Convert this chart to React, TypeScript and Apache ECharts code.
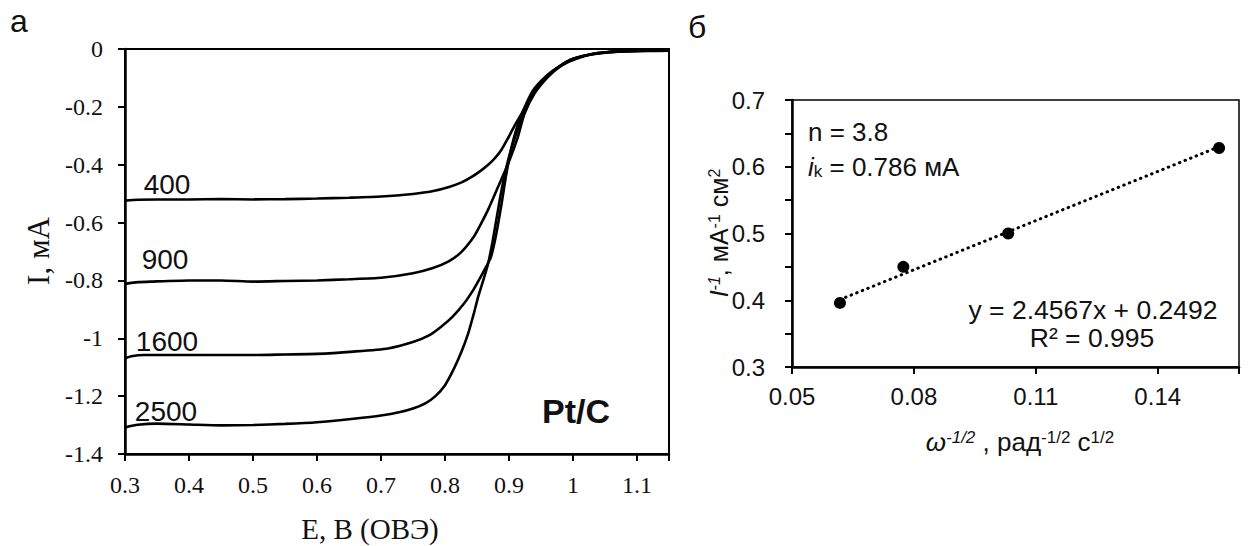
import React, { useEffect, useRef } from 'react';
import * as echarts from 'echarts';

// ---------- data ----------
// Left panel: LSV curves I (mA) vs E (V vs RHE) for each rotation rate (rpm)
const rpmLabels = ['400', '900', '1600', '2500'];

const curve400: [number, number][] = [
  [0.300, -0.524], [0.320, -0.521], [0.350, -0.520], [0.400, -0.520], [0.450, -0.519],
  [0.500, -0.520], [0.550, -0.519], [0.600, -0.517], [0.650, -0.514], [0.700, -0.510],
  [0.750, -0.501], [0.780, -0.492], [0.805, -0.478], [0.825, -0.462], [0.841, -0.443],
  [0.855, -0.422], [0.867, -0.401], [0.878, -0.377], [0.888, -0.349], [0.898, -0.310],
  [0.908, -0.268], [0.922, -0.215], [0.935, -0.163], [0.950, -0.119], [0.971, -0.073],
  [0.993, -0.044], [1.010, -0.030], [1.024, -0.021], [1.045, -0.014], [1.065, -0.010],
  [1.090, -0.008], [1.118, -0.007], [1.150, -0.006],
];

const curve900: [number, number][] = [
  [0.300, -0.812], [0.320, -0.806], [0.340, -0.804], [0.400, -0.800], [0.450, -0.800],
  [0.500, -0.804], [0.550, -0.802], [0.600, -0.800], [0.650, -0.796], [0.700, -0.791],
  [0.750, -0.775], [0.780, -0.758], [0.805, -0.735], [0.825, -0.703], [0.845, -0.649],
  [0.856, -0.605], [0.867, -0.557], [0.883, -0.476], [0.899, -0.395], [0.914, -0.303],
  [0.924, -0.225], [0.940, -0.153], [0.961, -0.096], [0.980, -0.060], [1.000, -0.036],
  [1.030, -0.018], [1.070, -0.009], [1.110, -0.006], [1.150, -0.005],
];

const curve1600: [number, number][] = [
  [0.300, -1.069], [0.310, -1.062], [0.330, -1.058], [0.400, -1.058], [0.500, -1.058],
  [0.550, -1.056], [0.600, -1.054], [0.657, -1.046], [0.711, -1.035], [0.751, -1.012],
  [0.775, -0.990], [0.794, -0.960], [0.812, -0.925], [0.830, -0.879], [0.845, -0.830],
  [0.856, -0.787], [0.865, -0.750], [0.872, -0.718], [0.880, -0.640], [0.888, -0.540],
  [0.896, -0.430], [0.905, -0.330], [0.918, -0.235], [0.937, -0.145], [0.960, -0.090],
  [0.980, -0.058], [1.000, -0.034], [1.030, -0.017], [1.070, -0.008], [1.110, -0.006],
  [1.150, -0.005],
];

const curve2500: [number, number][] = [
  [0.300, -1.308], [0.320, -1.299], [0.350, -1.295], [0.400, -1.298], [0.450, -1.301],
  [0.500, -1.300], [0.550, -1.296], [0.600, -1.290], [0.657, -1.278], [0.700, -1.267],
  [0.730, -1.255], [0.751, -1.242], [0.770, -1.224], [0.785, -1.200], [0.800, -1.162],
  [0.814, -1.105], [0.826, -1.045], [0.836, -0.985], [0.845, -0.915], [0.852, -0.855],
  [0.860, -0.798], [0.867, -0.745], [0.874, -0.670], [0.881, -0.580], [0.889, -0.480],
  [0.898, -0.390], [0.910, -0.300], [0.924, -0.220], [0.940, -0.145], [0.960, -0.092],
  [0.980, -0.058], [1.000, -0.034], [1.030, -0.017], [1.070, -0.008], [1.110, -0.006],
  [1.150, -0.005],
];

// Right panel: Koutecky-Levich plot
const omegaInvSqrt = [0.0618, 0.0774, 0.1032, 0.1551];
const inverseCurrent = [0.396, 0.450, 0.500, 0.628];
const trendX = [0.0618, 0.1551];
const trendY = [0.401, 0.630];
const fitEquation = 'y = 2.4567x + 0.2492';
const fitR2 = 'R² = 0.995';
const electronCount = 'n = 3.8';
const kineticCurrent = ' = 0.786 мА';

// ---------- styling ----------
const SANS = '"Liberation Sans", Arial, sans-serif';
const SERIF = '"Liberation Serif", "Times New Roman", serif';
const INK = '#111';

export default function App() {
  const ref = useRef<HTMLDivElement>(null);

  useEffect(() => {
    if (!ref.current) return;
    const chart = echarts.init(ref.current, undefined, { renderer: 'svg' });

    const curves = [curve400, curve900, curve1600, curve2500];

    const option: any = {
      animation: false,
      backgroundColor: '#fff',
      grid: [
        {
          left: 125, top: 49, right: 1248 - 669, bottom: 546 - 454,
          show: true, borderColor: '#000', borderWidth: 2, backgroundColor: 'transparent',
        },
        {
          left: 792, top: 100, right: 1248 - 1239, bottom: 546 - 367,
          show: true, borderColor: '#000', borderWidth: 1.5, backgroundColor: 'transparent',
        },
      ],
      xAxis: [
        {
          type: 'value', gridIndex: 0, min: 0.3, max: 1.15, interval: 0.1,
          axisLine: { show: true, onZero: false, lineStyle: { color: '#000', width: 2.5 } },
          axisTick: { show: true, inside: false, length: 7, lineStyle: { color: '#000', width: 2 } },
          splitLine: { show: false },
          axisLabel: {
            margin: 19, color: INK, fontFamily: SERIF, fontSize: 24,
            formatter: (v: number) => (Math.abs(v * 10 - Math.round(v * 10)) < 1e-6 ? String(Math.round(v * 10) / 10) : ''),
          },
        },
        {
          type: 'value', gridIndex: 1, min: 0.05, max: 0.16, interval: 0.03,
          axisLine: { show: true, onZero: false, lineStyle: { color: '#000', width: 2.5 } },
          axisTick: { show: true, inside: false, length: 7, lineStyle: { color: '#000', width: 2 } },
          splitLine: { show: false },
          axisLabel: {
            margin: 17, color: INK, fontFamily: SANS, fontSize: 24,
            formatter: (v: number) => (v > 0.155 ? '' : v.toFixed(2)),
          },
        },
      ],
      yAxis: [
        {
          type: 'value', gridIndex: 0, min: -1.4, max: 0, interval: 0.2,
          axisLine: { show: true, onZero: false, lineStyle: { color: '#000', width: 2.5 } },
          axisTick: { show: true, inside: false, length: 7, lineStyle: { color: '#000', width: 2 } },
          splitLine: { show: false },
          axisLabel: {
            margin: 22, color: INK, fontFamily: SERIF, fontSize: 24,
            formatter: (v: number) => String(Math.round(v * 10) / 10),
          },
        },
        {
          type: 'value', gridIndex: 1, min: 0.3, max: 0.7, interval: 0.05,
          axisLine: { show: true, onZero: false, lineStyle: { color: '#000', width: 2.5 } },
          axisTick: { show: true, inside: false, length: 7, lineStyle: { color: '#000', width: 2 } },
          splitLine: { show: false },
          axisLabel: {
            margin: 27, color: INK, fontFamily: SANS, fontSize: 24,
            formatter: (v: number) => {
              const t = Math.round(v * 100);
              return t % 10 === 0 ? (t / 100).toFixed(1) : '';
            },
          },
        },
      ],
      series: [
        ...curves.map((c, i) => ({
          name: rpmLabels[i] + ' rpm',
          type: 'line',
          xAxisIndex: 0,
          yAxisIndex: 0,
          data: c,
          showSymbol: false,
          smooth: 0.2,
          lineStyle: { color: '#000', width: 2.6 },
          z: 3,
        })),
        {
          name: 'trend',
          type: 'line',
          xAxisIndex: 1,
          yAxisIndex: 1,
          data: trendX.map((x, i) => [x, trendY[i]]),
          showSymbol: false,
          lineStyle: { color: '#000', width: 3, type: [0.5, 5.5], cap: 'round' },
          z: 2,
        },
        {
          name: 'K-L',
          type: 'scatter',
          xAxisIndex: 1,
          yAxisIndex: 1,
          data: omegaInvSqrt.map((x, i) => [x, inverseCurrent[i]]),
          symbol: 'circle',
          symbolSize: 12,
          itemStyle: { color: '#000', opacity: 1 },
          z: 4,
        },
      ],
      graphic: [
        // panel letters
        { type: 'text', x: 10, y: 21, style: { text: 'а', font: `32px ${SANS}`, fill: INK, align: 'left', verticalAlign: 'middle' } },
        { type: 'text', x: 688, y: 27, style: { text: 'б', font: `32px ${SANS}`, fill: INK, align: 'left', verticalAlign: 'middle' } },
        // curve labels
        { type: 'text', x: 167, y: 184, style: { text: rpmLabels[0], font: `28px ${SANS}`, fill: INK, align: 'center', verticalAlign: 'middle' } },
        { type: 'text', x: 165, y: 259, style: { text: rpmLabels[1], font: `28px ${SANS}`, fill: INK, align: 'center', verticalAlign: 'middle' } },
        { type: 'text', x: 167, y: 341, style: { text: rpmLabels[2], font: `28px ${SANS}`, fill: INK, align: 'center', verticalAlign: 'middle' } },
        { type: 'text', x: 166, y: 411, style: { text: rpmLabels[3], font: `28px ${SANS}`, fill: INK, align: 'center', verticalAlign: 'middle' } },
        // catalyst label
        { type: 'text', x: 576, y: 411, style: { text: 'Pt/C', font: `bold 34px ${SANS}`, fill: INK, align: 'center', verticalAlign: 'middle' } },
        // left axis titles
        { type: 'text', x: 370, y: 529, style: { text: 'E, В (ОВЭ)', font: `29px ${SERIF}`, fill: INK, align: 'center', verticalAlign: 'middle' } },
        { type: 'text', x: 38, y: 251, rotation: Math.PI / 2, style: { text: 'I, мА', font: `31px ${SERIF}`, fill: INK, align: 'center', verticalAlign: 'middle' } },
        // right axis titles
        {
          type: 'text', x: 1020, y: 442,
          style: {
            text: '{w|ω}{ws|-1/2}{n| , рад}{s|-1/2}{n| с}{s|1/2}',
            align: 'center', verticalAlign: 'middle', fill: INK,
            font: `26px ${SANS}`,
            rich: {
              w: { fontSize: 26, fontFamily: SANS, fontStyle: 'italic', fill: INK },
              ws: { fontSize: 17, fontFamily: SANS, fontStyle: 'italic', fill: INK, verticalAlign: 'top' },
              n: { fontSize: 26, fontFamily: SANS, fill: INK },
              s: { fontSize: 17, fontFamily: SANS, fill: INK, verticalAlign: 'top' },
            },
          },
        },
        {
          type: 'text', x: 719, y: 233, rotation: Math.PI / 2,
          style: {
            text: '{i|I}{is|-1}{n|, мА}{s|-1}{n| см}{s|2}',
            align: 'center', verticalAlign: 'middle', fill: INK,
            font: `25px ${SANS}`,
            rich: {
              i: { fontSize: 25, fontFamily: SANS, fontStyle: 'italic', fill: INK },
              is: { fontSize: 16, fontFamily: SANS, fontStyle: 'italic', fill: INK, verticalAlign: 'top' },
              n: { fontSize: 25, fontFamily: SANS, fill: INK },
              s: { fontSize: 16, fontFamily: SANS, fill: INK, verticalAlign: 'top' },
            },
          },
        },
        // right panel annotations
        { type: 'text', x: 808, y: 132, style: { text: electronCount, font: `26px ${SANS}`, fill: INK, align: 'left', verticalAlign: 'middle' } },
        {
          type: 'text', x: 808, y: 167,
          style: {
            text: '{i|i}{k|k}{n|' + kineticCurrent + '}',
            align: 'left', verticalAlign: 'middle', fill: INK, font: `26px ${SANS}`,
            rich: {
              i: { fontSize: 26, fontFamily: SANS, fontStyle: 'italic', fill: INK },
              k: { fontSize: 17, fontFamily: SANS, fill: INK, verticalAlign: 'bottom' },
              n: { fontSize: 26, fontFamily: SANS, fill: INK },
            },
          },
        },
        { type: 'text', x: 1093, y: 310, style: { text: fitEquation, font: `26.5px ${SANS}`, fill: INK, align: 'center', verticalAlign: 'middle' } },
        { type: 'text', x: 1092, y: 338, style: { text: fitR2, font: `26.5px ${SANS}`, fill: INK, align: 'center', verticalAlign: 'middle' } },
      ],
    };

    chart.setOption(option);
    return () => chart.dispose();
  }, []);

  return (
    <div
      ref={ref}
      style={{ position: 'absolute', left: 0, top: 0, width: 1248, height: 546, background: '#fff' }}
    />
  );
}
